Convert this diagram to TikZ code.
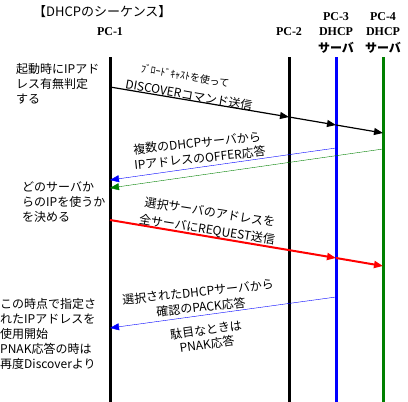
\documentclass[tikz,border=0pt]{standalone}
\usepackage{fontspec}
\setmainfont{Liberation Serif}
\newfontfamily\jp{Noto Sans CJK JP}
\usetikzlibrary{arrows.meta}
\definecolor{srvgreen}{RGB}{0,128,0}

\begin{document}
\begin{tikzpicture}[x=1pt, y=1pt,
    every node/.style={font=\jp\fontsize{12}{15}\selectfont, inner sep=0pt},
    head/.style={font=\bfseries\fontsize{12}{15}\selectfont},
    life/.style={line width=3pt},
    msg/.style={-{Triangle[length=9pt,width=7pt]}}]
    \useasboundingbox (0,0) rectangle (408,-402);
    \node[anchor=west, font=\jp\fontsize{13}{15}\selectfont] (title) at (33,-12) {【DHCPのシーケンス】};
    \node[head] (pc1) at (110,-32) {PC-1};
    \node[head] (pc2) at (289,-32) {PC-2};
    \node[head] (pc3) at (336,-17) {PC-3};
    \node[head] (dhcp3) at (336,-32) {DHCP};
    \node[font=\jp\bfseries\fontsize{12}{15}\selectfont] (srv3) at (336,-48) {サーバ};
    \node[head] (pc4) at (383,-17) {PC-4};
    \node[head] (dhcp4) at (383,-32) {DHCP};
    \node[font=\jp\bfseries\fontsize{12}{15}\selectfont] (srv4) at (383,-48) {サーバ};
    \coordinate (top1) at (110,-57);  \coordinate (bot1) at (110,-402);
    \coordinate (top2) at (289,-57);  \coordinate (bot2) at (289,-402);
    \coordinate (top3) at (336,-57);  \coordinate (bot3) at (336,-402);
    \coordinate (top4) at (383,-57);  \coordinate (bot4) at (383,-402);
    \draw[life] (top1) -- (bot1);
    \draw[life] (top2) -- (bot2);
    \draw[life, blue] (top3) -- (bot3);
    \draw[life, srvgreen] (top4) -- (bot4);
    % discover
    \coordinate (d1) at (110,-87);  \coordinate (d2) at (289,-117);
    \coordinate (d3) at (336,-125); \coordinate (d4) at (383,-133);
    \draw[msg, line width=1.2pt] (d1) -- (d2);
    \draw[msg, line width=1.2pt] (d2) -- (d3);
    \draw[msg, line width=1.2pt] (d3) -- (d4);
    \node[rotate=-10, font=\jp\fontsize{10}{12}\selectfont] (bcast) at (185,-76) {ﾌﾞﾛｰﾄﾞｷｬｽﾄを使って};
    \node[rotate=-10] (disc) at (189,-95) {DISCOVERコマンド送信};
    % offer
    \coordinate (o3) at (336,-148); \coordinate (o1) at (110,-180);
    \coordinate (o4) at (383,-149); \coordinate (o5) at (110,-188);
    \draw[msg, blue] (o3) -- (o1);
    \draw[msg, srvgreen] (o4) -- (o5);
    \node[rotate=6] (offer1) at (197,-143) {複数のDHCPサーバから};
    \node[rotate=6] (offer2) at (200,-158) {IPアドレスのOFFER応答};
    % request
    \coordinate (r1) at (110,-220); \coordinate (r3) at (336,-258); \coordinate (r4) at (383,-266);
    \draw[msg, red, line width=2pt] (r1) -- (r3);
    \draw[msg, red, line width=2pt] (r3) -- (r4);
    \node[rotate=-9] (req1) at (210,-212) {選択サーバのアドレスを};
    \node[rotate=-9] (req2) at (207,-230) {全サーバにREQUEST送信};
    % ack
    \coordinate (a3) at (336,-297); \coordinate (a1) at (110,-328);
    \draw[msg, blue] (a3) -- (a1);
    \node[rotate=6] (ack1) at (198,-292) {選択されたDHCPサーバから};
    \node[rotate=6] (ack2) at (201,-307) {確認のPACK応答};
    \node[rotate=8] (nak1) at (206,-330) {駄目なときは};
    \node[rotate=8] (nak2) at (207,-344) {PNAK応答};
    % notes
    \node[anchor=north west, align=left] (n1) at (16,-63) {起動時にIPアド\\レス有無判定\\する};
    \node[anchor=north west, align=left] (n2) at (22,-181) {どのサーバか\\らのIPを使うか\\を決める};
    \node[anchor=north west, align=left] (n3) at (0,-298) {この時点で指定さ\\れたIPアドレスを\\使用開始\\PNAK応答の時は\\再度Discoverより};
\end{tikzpicture}
\end{document}
